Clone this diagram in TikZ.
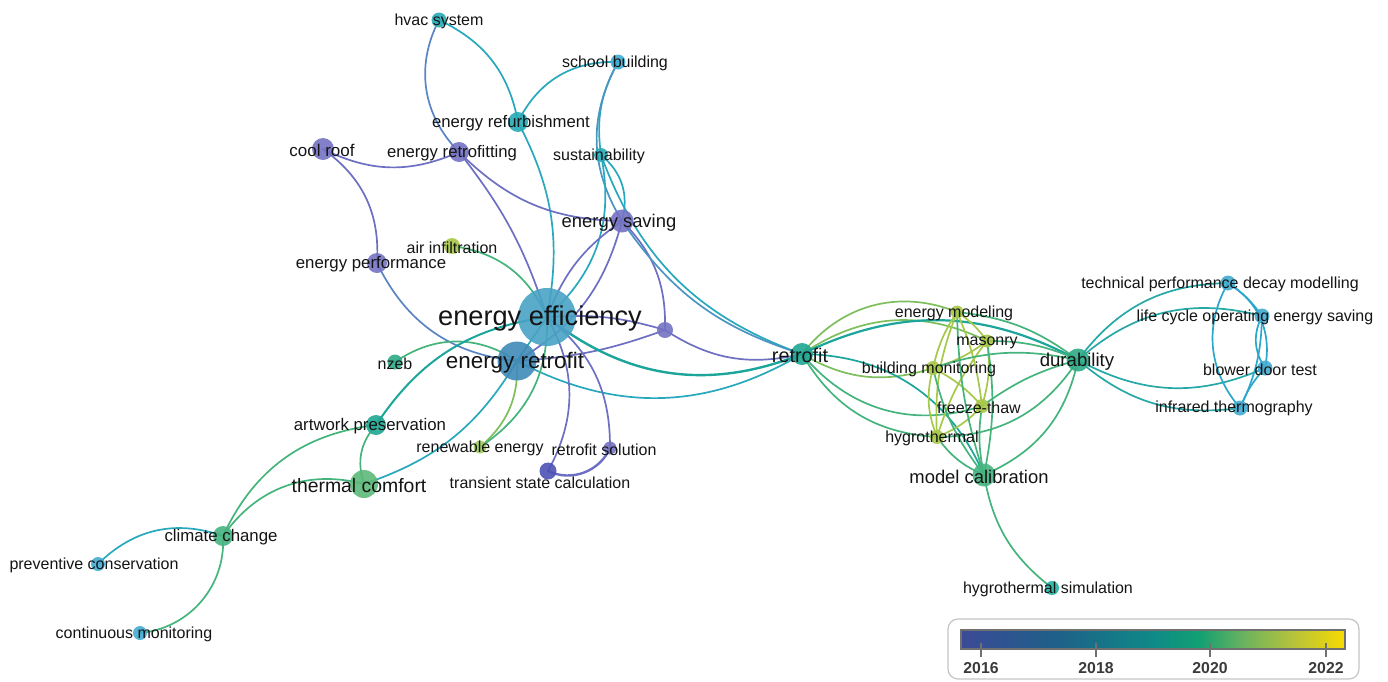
\documentclass[tikz,border=0pt]{standalone}
\usepackage{fontspec}
\setmainfont{Liberation Sans}

\definecolor{ink}{HTML}{141414}
% node fills
\definecolor{pur}{HTML}{7472C2}
\definecolor{purd}{HTML}{4D52B4}
\definecolor{effc}{HTML}{49A2C5}
\definecolor{retc}{HTML}{3F89B7}
\definecolor{tea}{HTML}{27AAB6}
\definecolor{lblu}{HTML}{42ACD2}
\definecolor{tgr}{HTML}{1FA692}
\definecolor{grn}{HTML}{2FAA86}
\definecolor{grl}{HTML}{46B480}
\definecolor{thc}{HTML}{5CB878}
\definecolor{ylg}{HTML}{A9C847}
\definecolor{ren}{HTML}{9FCC60}
\definecolor{hsc}{HTML}{24B4A2}
% links
\definecolor{epur}{HTML}{6C6FC2}
\definecolor{eblu}{HTML}{5A84C4}
\definecolor{eblu2}{HTML}{4B95C2}
\definecolor{etea}{HTML}{28A8BC}
\definecolor{etg}{HTML}{1CA59A}
\definecolor{egrn}{HTML}{45B47C}
\definecolor{eyg}{HTML}{7DBF5C}
\definecolor{eylg}{HTML}{A7C94A}
\definecolor{elbl}{HTML}{2BA7C9}
\definecolor{edt}{HTML}{26A8A6}
% legend
\definecolor{boxgray}{HTML}{C4C4C4}
\definecolor{tickgray}{HTML}{707070}
\definecolor{yrgray}{HTML}{3A3A3A}
\definecolor{v1}{HTML}{3B4A96}
\definecolor{v2}{HTML}{1E6088}
\definecolor{v3}{HTML}{0E8A88}
\definecolor{v4}{HTML}{12A072}
\definecolor{v5}{HTML}{6DB35E}
\definecolor{v6}{HTML}{B4C23C}
\definecolor{v7}{HTML}{F8DA00}
\pgfdeclarehorizontalshading{viri}{100bp}{color(0bp)=(v1); color(25bp)=(v1);
  color(37.5bp)=(v2); color(50bp)=(v3); color(56bp)=(v4); color(62bp)=(v5);
  color(68bp)=(v6); color(75bp)=(v7); color(100bp)=(v7)}

\pgfdeclarelayer{links}
\pgfdeclarelayer{texts}
\pgfsetlayers{links,main,texts}

\begin{document}
\begin{tikzpicture}[x=0.5pt,y=-0.5pt,
    kw/.style 2 args={circle,fill=#1,fill opacity=0.9,inner sep=0pt,minimum size=#2pt},
    lb/.style={inner sep=0pt,text=ink,yshift=-0.8pt,font=\fontsize{#1}{#1}\selectfont},
    lb/.default=8,
    ed/.style={draw=#1,line width=0.85pt,line cap=round},
    ed/.default=epur,
    yr/.style={inner sep=0pt,text=yrgray,font=\fontsize{7.9}{8}\selectfont\bfseries}]
  \useasboundingbox (0,0) rectangle (1388,681);

  % keywords
  \node[kw={tea}{7.5}] (hvac) at (439,20) {};
  \node[kw={lblu}{7.5}] (schoolb) at (618,62) {};
  \node[kw={tea}{10}] (refurb) at (518,122) {};
  \node[kw={pur}{11}] (coolroof) at (323,149) {};
  \node[kw={pur}{10}] (retrofitting) at (459,152) {};
  \node[kw={tea}{7}] (sustain) at (601,155) {};
  \node[kw={pur}{11.5}] (esaving) at (622,221) {};
  \node[kw={ylg}{8}] (airinf) at (452,246) {};
  \node[kw={pur}{10}] (eperf) at (377,263) {};
  \node[kw={effc}{29}] (eeff) at (547,317) {};
  \node[kw={pur}{8}] (hub) at (665,330) {};
  \node[kw={retc}{19.5}] (eretro) at (517,361) {};
  \node[kw={grn}{7.5}] (nzeb) at (395,362) {};
  \node[kw={tgr}{10}] (artwork) at (376,425) {};
  \node[kw={ren}{6.5}] (renew) at (480,447) {};
  \node[kw={pur}{6.5}] (rsol) at (610,448) {};
  \node[kw={purd}{8.5}] (tsc) at (548,471) {};
  \node[kw={thc}{14}] (thcomf) at (364,484) {};
  \node[kw={grl}{10}] (climch) at (223,536) {};
  \node[kw={lblu}{7}] (prevcons) at (98,564) {};
  \node[kw={lblu}{7}] (contmon) at (140,633) {};
  \node[kw={tgr}{11}] (retrofit) at (802,354) {};
  \node[kw={ylg}{6.5}] (emodel) at (957,312) {};
  \node[kw={ylg}{6.5}] (masonry) at (987,341) {};
  \node[kw={ylg}{7}] (bmon) at (933,368) {};
  \node[kw={ylg}{7}] (fthaw) at (982,406) {};
  \node[kw={ylg}{7}] (hygro) at (937,437) {};
  \node[kw={grn}{11.5}] (durab) at (1078,360) {};
  \node[kw={grl}{11.5}] (modcal) at (984,475) {};
  \node[kw={hsc}{7}] (hsim) at (1052,588) {};
  \node[kw={lblu}{7.5}] (tpdm) at (1228,283) {};
  \node[kw={lblu}{7.5}] (lcoes) at (1262,316) {};
  \node[kw={lblu}{7.5}] (bdt) at (1265,368) {};
  \node[kw={lblu}{7.5}] (irt) at (1240,408) {};

  \begin{pgfonlayer}{links}
    \draw[ed=eblu] (hvac.center) to[bend right=36] (retrofitting.center);
    \draw[ed=etea] (hvac.center) to[bend left=27] (refurb.center);
    \draw[ed=etea] (refurb.center) to[bend left=19] (eeff.center);
    \draw[ed=etea] (schoolb.center) to[bend right=33] (refurb.center);
    \draw[ed=etea] (schoolb.center) to[bend right=18] (sustain.center);
    \draw[ed=eblu2] (schoolb.center) to[bend right=30] (esaving.center);
    \draw[ed=etea] (sustain.center) to[bend left=33] (esaving.center);
    \draw[ed=etea] (sustain.center) to[bend left=30] (eeff.center);
    \draw[ed=etea] (sustain.center) to[bend right=25] (retrofit.center);
    \draw[ed] (esaving.center) to[bend right=17] (eeff.center);
    \draw[ed] (esaving.center) to[bend left=22] (eretro.center);
    \draw[ed] (retrofitting.center) to[bend right=22] (esaving.center);
    \draw[ed] (retrofitting.center) to[bend left=10] (eeff.center);
    \draw[ed] (coolroof.center) to[bend right=25] (retrofitting.center);
    \draw[ed] (coolroof.center) to[bend left=29] (eperf.center);
    \draw[ed=eblu] (eperf.center) to[bend right=29] (eretro.center);
    \draw[ed=egrn] (airinf.center) to[bend left=29] (eeff.center);
    \draw[ed] (eeff.center) to[bend left=10] (hub.center);
    \draw[ed] (eretro.center) to[bend right=8] (hub.center);
    \draw[ed] (esaving.center) to[bend left=23] (hub.center);
    \draw[ed=eblu2] (esaving.center) to[bend right=19] (retrofit.center);
    \draw[ed] (hub.center) to[bend right=23] (retrofit.center);
    \draw[ed=etg,line width=1.2pt] (eeff.center) to[bend right=30] (retrofit.center);
    \draw[ed=etea] (eretro.center) to[bend right=29] (retrofit.center);
    \draw[ed] (eeff.center) to[bend left=29] (tsc.center);
    \draw[ed] (eeff.center) to[bend left=26] (rsol.center);
    \draw[ed,line width=1.2pt] (tsc.center) to[bend right=46] (rsol.center);
    \draw[ed=etea] (eeff.center) -- (eretro.center);
    \draw[ed=egrn] (nzeb.center) to[bend left=34] (eretro.center);
    \draw[ed=etg,line width=1pt] (artwork.center) to[bend left=24] (eeff.center);
    \draw[ed=egrn] (artwork.center) to[bend right=30] (thcomf.center);
    \draw[ed=egrn] (artwork.center) to[bend right=29] (climch.center);
    \draw[ed=egrn] (thcomf.center) to[bend right=35] (climch.center);
    \draw[ed=etea] (thcomf.center) to[bend right=20] (eretro.center);
    \draw[ed=eyg] (renew.center) to[bend right=26] (eretro.center);
    \draw[ed=egrn] (renew.center) to[bend right=29] (eeff.center);
    \draw[ed=etea] (climch.center) to[bend right=32] (prevcons.center);
    \draw[ed=egrn] (climch.center) to[bend left=44] (contmon.center);
    % right cluster
    \draw[ed=eyg] (retrofit.center) to[bend left=37] (emodel.center);
    \draw[ed=eyg] (retrofit.center) to[bend left=30] (masonry.center);
    \draw[ed=etg,line width=1.1pt] (retrofit.center) to[bend left=27] (durab.center);
    \draw[ed=eyg] (retrofit.center) to[bend right=24] (bmon.center);
    \draw[ed=egrn] (retrofit.center) to[bend right=34] (fthaw.center);
    \draw[ed=egrn] (retrofit.center) to[bend right=28] (hygro.center);
    \draw[ed=etg] (retrofit.center) to[bend left=33] (modcal.center);
    \draw[ed=eylg] (emodel.center) to[bend left=10] (masonry.center);
    \draw[ed=eylg] (emodel.center) to[bend right=10] (bmon.center);
    \draw[ed=eylg] (emodel.center) to[bend left=8] (fthaw.center);
    \draw[ed=eylg] (emodel.center) to[bend right=12] (hygro.center);
    \draw[ed=eylg] (masonry.center) to[bend left=10] (bmon.center);
    \draw[ed=eylg] (masonry.center) to[bend left=12] (fthaw.center);
    \draw[ed=eylg] (masonry.center) to[bend right=10] (hygro.center);
    \draw[ed=eylg] (bmon.center) to[bend left=10] (fthaw.center);
    \draw[ed=eylg] (bmon.center) to[bend right=18] (hygro.center);
    \draw[ed=eylg] (fthaw.center) to[bend left=12] (hygro.center);
    \draw[ed=egrn] (emodel.center) to[bend left=15] (durab.center);
    \draw[ed=egrn] (masonry.center) to[bend left=12] (durab.center);
    \draw[ed=egrn] (bmon.center) to[bend left=15] (durab.center);
    \draw[ed=egrn] (fthaw.center) to[bend left=10] (durab.center);
    \draw[ed=egrn] (hygro.center) to[bend right=28] (durab.center);
    \draw[ed=egrn] (modcal.center) to[bend right=27] (durab.center);
    \draw[ed=egrn] (modcal.center) to[bend left=8] (emodel.center);
    \draw[ed=egrn] (modcal.center) to[bend right=10] (masonry.center);
    \draw[ed=egrn] (modcal.center) to[bend left=10] (fthaw.center);
    \draw[ed=egrn] (modcal.center) to[bend left=15] (hygro.center);
    \draw[ed=egrn] (modcal.center) to[bend left=12] (bmon.center);
    \draw[ed=egrn] (modcal.center) to[bend right=21] (hsim.center);
    \draw[ed=edt] (durab.center) to[bend left=26] (tpdm.center);
    \draw[ed=edt] (durab.center) to[bend left=28] (lcoes.center);
    \draw[ed=edt] (durab.center) to[bend right=26] (bdt.center);
    \draw[ed=edt] (durab.center) to[bend right=24] (irt.center);
    \draw[ed=elbl] (tpdm.center) to[bend right=35] (irt.center);
    \draw[ed=elbl] (tpdm.center) to[bend left=10] (lcoes.center);
    \draw[ed=elbl] (tpdm.center) to[bend left=35] (bdt.center);
    \draw[ed=elbl] (lcoes.center) to[bend right=30] (bdt.center);
    \draw[ed=elbl] (lcoes.center) to[bend left=12] (irt.center);
    \draw[ed=elbl] (bdt.center) to[bend right=10] (irt.center);
  \end{pgfonlayer}

  \begin{pgfonlayer}{texts}
    \node[lb] (hvac-t) at (hvac) {hvac system};
    \node[lb,xshift=-1.5pt] (schoolb-t) at (schoolb) {school building};
    \node[lb=8.35,xshift=-3.5pt] (refurb-t) at (refurb) {energy refurbishment};
    \node[lb=8.5,xshift=-0.5pt] (coolroof-t) at (coolroof) {cool roof};
    \node[lb=8.35,xshift=-3.5pt] (retrofitting-t) at (retrofitting) {energy retrofitting};
    \node[lb,xshift=-1pt] (sustain-t) at (sustain) {sustainability};
    \node[lb=9.2,xshift=-1.5pt] (esaving-t) at (esaving) {energy saving};
    \node[lb] (airinf-t) at (airinf) {air infiltration};
    \node[lb=8.4,xshift=-3pt] (eperf-t) at (eperf) {energy performance};
    \node[lb=13.6,xshift=-3.5pt] (eeff-t) at (eeff) {energy efficiency};
    \node[lb=11.2,xshift=-1pt] (eretro-t) at (eretro) {energy retrofit};
    \node[lb] (nzeb-t) at (nzeb) {nzeb};
    \node[lb=8.4,xshift=-3pt] (artwork-t) at (artwork) {artwork preservation};
    \node[lb] (renew-t) at (renew) {renewable energy};
    \node[lb,xshift=-3pt] (rsol-t) at (rsol) {retrofit solution};
    \node[lb] (tsc-t) at (540,481) {transient state calculation};
    \node[lb=9.7,xshift=-2.5pt] (thcomf-t) at (thcomf) {thermal comfort};
    \node[lb=8.4,xshift=-1pt] (climch-t) at (climch) {climate change};
    \node[lb,xshift=-2pt] (prevcons-t) at (prevcons) {preventive conservation};
    \node[lb,xshift=-3pt] (contmon-t) at (contmon) {continuous monitoring};
    \node[lb=9.9,xshift=-1pt] (retrofit-t) at (retrofit) {retrofit};
    \node[lb,xshift=-1.5pt] (emodel-t) at (emodel) {energy modeling};
    \node[lb] (masonry-t) at (masonry) {masonry};
    \node[lb,xshift=-2pt] (bmon-t) at (bmon) {building monitoring};
    \node[lb,xshift=-1.5pt] (fthaw-t) at (fthaw) {freeze-thaw};
    \node[lb,xshift=-2.5pt] (hygro-t) at (hygro) {hygrothermal};
    \node[lb=9.3,xshift=-0.5pt] (durab-t) at (durab) {durability};
    \node[lb=9.2,xshift=-2.5pt] (modcal-t) at (modcal) {model calibration};
    \node[lb,xshift=-2pt] (hsim-t) at (hsim) {hygrothermal simulation};
    \node[lb] (tpdm-t) at (1220,283) {technical performance decay modelling};
    \node[lb] (lcoes-t) at (1255,316) {life cycle operating energy saving};
    \node[lb] (bdt-t) at (1260,368) {blower door test};
    \node[lb] (irt-t) at (1234,407) {infrared thermography};
  \end{pgfonlayer}

  % year legend
  \draw[boxgray,line width=0.6pt,rounded corners=5pt] (948,619) rectangle (1359,679);
  \shade[shading=viri] (961,630) rectangle (1345,649);
  \draw[tickgray,line width=0.8pt] (961,630) rectangle (1345,649);
  \foreach \yy/\xx in {2016/981,2018/1096,2020/1210,2022/1326} {
    \draw[tickgray,line width=1pt] (\xx,643) -- (\xx,657);
    \node[yr] (yr\yy) at (\xx,668) {\yy};
  }
\end{tikzpicture}
\end{document}
